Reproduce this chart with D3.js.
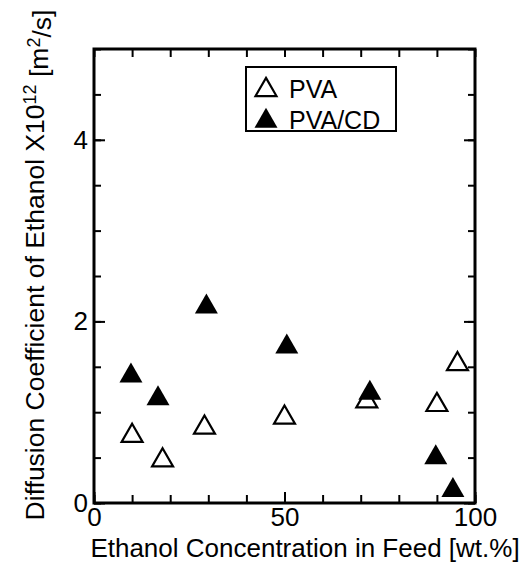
<!DOCTYPE html>
<html>
<head>
<meta charset="utf-8">
<script src="https://cdn.jsdelivr.net/npm/d3@7"></script>
<style>
  body { margin: 0; background: #fff; }
  svg { display: block; }
  text { font-family: "Liberation Sans", Arial, Helvetica, sans-serif; fill: #000; }
</style>
</head>
<body>
<div id="chart"></div>
<script>
// Data
var pvaConc = [10, 18, 29, 50, 71.6, 90, 95.4];
var pvaDiff = [0.74, 0.47, 0.83, 0.94, 1.12, 1.08, 1.53];
var pvacdConc = [9.7, 16.8, 29.5, 50.6, 72.4, 89.7, 94.2];
var pvacdDiff = [1.40, 1.15, 2.16, 1.72, 1.21, 0.50, 0.14];

var xMajor = [0, 50, 100];
var yMajor = [0, 2, 4];
var seriesNames = ["PVA", "PVA/CD"];

// Sizes
var W = 523, H = 562;
var margin = { top: 49, right: 48, bottom: 59, left: 94 };
var width = W - margin.left - margin.right;
var height = H - margin.top - margin.bottom;
var FONT = 26;

var svg = d3.select("#chart")
    .append("svg")
    .attr("width", W)
    .attr("height", H);

var g = svg.append("g")
    .attr("transform", "translate(" + margin.left + "," + margin.top + ")");

var x = d3.scaleLinear().domain([0, 100]).range([0, width]);
var y = d3.scaleLinear().domain([0, 5]).range([height, 0]);

var xMinor = d3.range(0, 101, 10);
var yMinor = d3.range(0, 5.01, 0.5);

// Helper to style an axis group: no domain path, black ticks
function styleAxis(sel) {
  sel.select(".domain").remove();
  sel.selectAll(".tick line").attr("stroke", "#000").attr("stroke-width", 2);
  sel.selectAll("text").style("font-size", FONT + "px").attr("fill", "#000");
}

// Bottom minor + major ticks (inward)
g.append("g")
    .attr("transform", "translate(0," + height + ")")
    .call(d3.axisBottom(x).tickValues(xMinor).tickSizeInner(-8).tickSizeOuter(0).tickFormat(""))
    .call(styleAxis);
g.append("g")
    .attr("transform", "translate(0," + height + ")")
    .call(d3.axisBottom(x).tickValues(xMajor).tickSizeInner(-11).tickSizeOuter(0).tickPadding(5).tickFormat(d3.format("d")))
    .call(styleAxis);

// Top ticks
g.append("g")
    .call(d3.axisTop(x).tickValues(xMinor).tickSizeInner(-8).tickSizeOuter(0).tickFormat(""))
    .call(styleAxis);

// Left ticks
g.append("g")
    .call(d3.axisLeft(y).tickValues(yMinor).tickSizeInner(-7).tickSizeOuter(0).tickFormat(""))
    .call(styleAxis);
g.append("g")
    .call(d3.axisLeft(y).tickValues(yMajor).tickSizeInner(-11).tickSizeOuter(0).tickPadding(6).tickFormat(d3.format("d")))
    .call(styleAxis);

// Right ticks
g.append("g")
    .attr("transform", "translate(" + width + ",0)")
    .call(d3.axisRight(y).tickValues(yMinor).tickSizeInner(-7).tickSizeOuter(0).tickFormat(""))
    .call(styleAxis);
g.append("g")
    .attr("transform", "translate(" + width + ",0)")
    .call(d3.axisRight(y).tickValues(yMajor).tickSizeInner(-11).tickSizeOuter(0).tickFormat(""))
    .call(styleAxis);

// Frame
g.append("rect")
    .attr("width", width)
    .attr("height", height)
    .attr("fill", "none")
    .attr("stroke", "#000")
    .attr("stroke-width", 3);

// Markers
var triFilled = d3.symbol().type(d3.symbolTriangle).size(229);
var triOpen = d3.symbol().type(d3.symbolTriangle).size(190);

var pvaData = pvaConc.map(function (c, i) { return { x: c, y: pvaDiff[i] }; });
var pvacdData = pvacdConc.map(function (c, i) { return { x: c, y: pvacdDiff[i] }; });

g.selectAll(".pvacd")
    .data(pvacdData)
    .enter().append("path")
    .attr("class", "pvacd")
    .attr("d", triFilled)
    .attr("transform", function (d) { return "translate(" + x(d.x) + "," + y(d.y) + ")"; })
    .attr("fill", "#000");

g.selectAll(".pva")
    .data(pvaData)
    .enter().append("path")
    .attr("class", "pva")
    .attr("d", triOpen)
    .attr("transform", function (d) { return "translate(" + x(d.x) + "," + y(d.y) + ")"; })
    .attr("fill", "none")
    .attr("stroke", "#000")
    .attr("stroke-width", 2.2);

// Legend
var legend = svg.append("g");
legend.append("rect")
    .attr("x", 246).attr("y", 67)
    .attr("width", 150).attr("height", 64)
    .attr("fill", "#fff")
    .attr("stroke", "#000")
    .attr("stroke-width", 2);

var rows = legend.selectAll(".row")
    .data(seriesNames)
    .enter().append("g")
    .attr("transform", function (d, i) { return "translate(266," + (90 + i * 31) + ")"; });

rows.append("path")
    .attr("d", function (d, i) { return i === 0 ? triOpen() : triFilled(); })
    .attr("fill", function (d, i) { return i === 0 ? "none" : "#000"; })
    .attr("stroke", function (d, i) { return i === 0 ? "#000" : "none"; })
    .attr("stroke-width", 2.2);

rows.append("text")
    .attr("x", 23)
    .attr("y", 8)
    .style("font-size", "25px")
    .text(function (d) { return d; });

// Axis titles
svg.append("text")
    .attr("x", 305)
    .attr("y", 557)
    .attr("text-anchor", "middle")
    .style("font-size", FONT + "px")
    .text("Ethanol Concentration in Feed [wt.%]");

var yt = svg.append("text")
    .attr("transform", "translate(44,265) rotate(-90)")
    .attr("text-anchor", "middle")
    .style("font-size", "26.5px");
yt.append("tspan").text("Diffusion Coefficient of Ethanol X10");
yt.append("tspan").attr("dy", "-0.42em").style("font-size", "18px").text("12");
yt.append("tspan").attr("dy", "0.42em").text(" [m");
yt.append("tspan").attr("dy", "-0.42em").style("font-size", "18px").text("2");
yt.append("tspan").attr("dy", "0.42em").text("/s]");
</script>
</body>
</html>
